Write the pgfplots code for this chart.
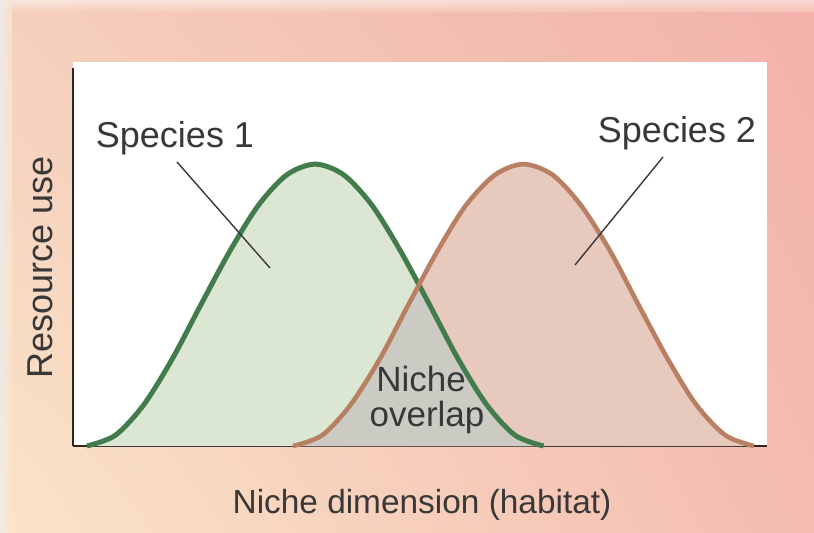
\documentclass[border=0pt]{standalone}
\usepackage{pgfplots}
\pgfplotsset{compat=1.18}
\usepgfplotslibrary{fillbetween}
\usetikzlibrary{shadings}
\usepackage{fontspec}
\setmainfont{Liberation Sans}

\definecolor{bgUL}{HTML}{F5CFBD}
\definecolor{bgUR}{HTML}{F2B1AA}
\definecolor{bgLL}{HTML}{FAE4C8}
\definecolor{bgLR}{HTML}{F4BCB0}
\definecolor{greenfill}{HTML}{DCE7D3}
\definecolor{brownfill}{HTML}{E8C9BE}
\definecolor{overlapfill}{HTML}{CBCBC3}
\definecolor{greenline}{HTML}{437C4C}
\definecolor{brownline}{HTML}{B97F62}
\definecolor{axisdark}{HTML}{2E2522}
\definecolor{txt}{HTML}{383838}

% Resource-use profiles along the niche axis
\pgfplotstableread{
x     y
2.0   0
6.1   2.79
10.2  10.75
14.3  22.66
18.4  36.70
22.6  50.74
26.7  62.65
30.8  70.61
34.9  73.40
39.0  70.61
43.1  62.65
47.2  50.74
51.4  36.70
55.5  22.66
59.6  10.75
63.7  2.79
67.8  0
}\speciesone

\pgfplotstableread{
x     y
31.7  0
35.9  2.79
40.0  10.75
44.2  22.66
48.3  36.70
52.5  50.74
56.6  62.65
60.8  70.61
64.9  73.40
69.1  70.61
73.2  62.65
77.4  50.74
81.5  36.70
85.7  22.66
89.8  10.75
94.0  2.79
98.1  0
}\speciestwo

\begin{document}
\begin{tikzpicture}
% page background
\begin{scope}[x=0.5bp, y=-0.5bp, shift={(0,266.5bp)}]
  \shade[upper left=bgUL, upper right=bgUR, lower left=bgLL, lower right=bgLR]
    (0,0) rectangle (814,533);
  \shade[top color=white, bottom color=bgUL, opacity=0.5] (0,0) rectangle (814,12);
  \shade[left color=black!7, right color=bgLL, opacity=0.8] (0,0) rectangle (12,533);
\end{scope}

\begin{axis}[
  at={(36.5bp,43.5bp)}, anchor=south west,
  scale only axis, width=347bp, height=192bp,
  xmin=0, xmax=100, ymin=0, ymax=100,
  axis x line=bottom, axis y line=left,
  axis line style={-, line width=1.4bp, color=axisdark},
  y axis line style={shorten >=3bp},
  ticks=none,
  axis background/.style={fill=white},
  clip=false,
]
  \addplot[draw=none, fill=greenfill, smooth] table {\speciesone} \closedcycle;
  \addplot[draw=none, fill=brownfill, smooth] table {\speciestwo} \closedcycle;
  \addplot[draw=none, name path=g, smooth] table {\speciesone};
  \addplot[draw=none, name path=b, smooth] table {\speciestwo};
  \path[fill=overlapfill]
    [intersection segments={of=b and g, sequence={L1 -- R2}}] -- cycle;
  \addplot[greenline, line width=2.5bp, smooth] table {\speciesone};
  \addplot[brownline, line width=2.3bp, smooth] table {\speciestwo};
\end{axis}

% labels and pointers
\begin{scope}[x=0.5bp, y=-0.5bp, shift={(0,266.5bp)}, every node/.style={text=txt, inner sep=0pt}]
  \draw[txt, line width=0.7bp] (177,162) -- (270,268);
  \draw[txt, line width=0.7bp] (663,157) -- (575,265);
  \node[anchor=base, font=\fontsize{18bp}{21bp}\selectfont] at (175,148) {Species 1};
  \node[anchor=base, font=\fontsize{18bp}{21bp}\selectfont] at (677,143) {Species 2};
  \node[anchor=base, font=\fontsize{17.5bp}{20bp}\selectfont] at (421,392) {Niche};
  \node[anchor=base, font=\fontsize{17.5bp}{20bp}\selectfont] at (427,427) {overlap};
  \node[anchor=base, rotate=90, font=\fontsize{18bp}{21bp}\selectfont] at (52,267) {Resource use};
  \node[anchor=base, font=\fontsize{16.7bp}{20bp}\selectfont] at (422,514) {Niche dimension (habitat)};
\end{scope}
\end{tikzpicture}
\end{document}
